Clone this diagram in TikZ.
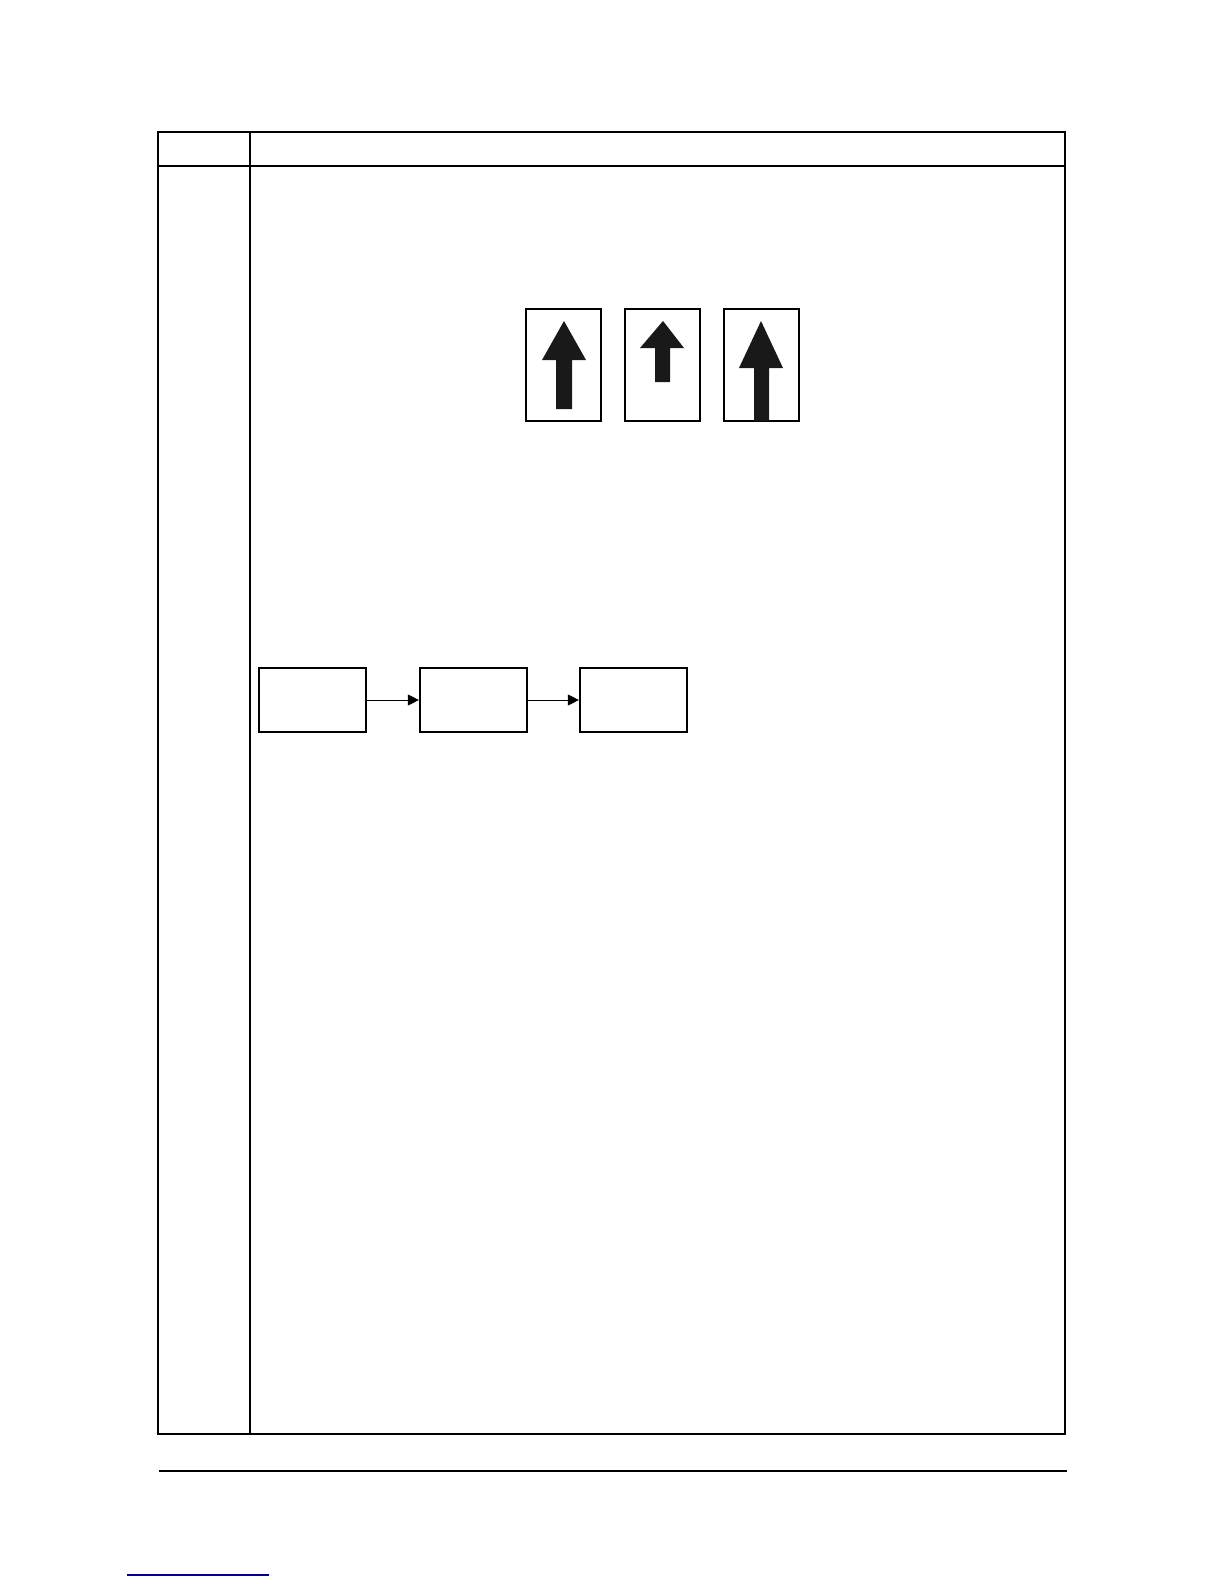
\documentclass[tikz,border=0pt]{standalone}
\usetikzlibrary{arrows.meta}
\begin{document}
\begin{tikzpicture}[x=0.5pt,y=-0.5pt,
  frame/.style={draw=black,line width=0.8pt},
  thickline/.style={draw=black,line width=1.3pt},
  pagebox/.style={draw=black,line width=0.6pt},
  arrowfill/.style={fill=black!90,draw=none},
  flowbox/.style={draw=black,line width=1.1pt,minimum width=53.5pt,minimum height=32pt,inner sep=0pt},
  flowarrow/.style={draw=black,line width=0.5pt,-{Triangle[length=5.5pt,width=5.5pt]}}
]
\useasboundingbox (0,0) rectangle (1224,1584);
% table frame
\draw[frame] (158,1434) -- (158,132) -- (1065,132) -- (1065,1434);
\draw[frame] (158,166) -- (1065,166);
\draw[frame] (250,132) -- (250,1434);
\draw[thickline] (157,1434) -- (1066,1434);
% footer line
\draw[black,line width=0.6pt] (159,1471) -- (1067,1471);
% blue link underline
\draw[blue!60!black,line width=0.6pt] (127,1575) -- (269,1575);
% page arrow figures
\draw[pagebox] (526,309) rectangle (601,421);
\fill[arrowfill] (564,321) -- (586,360) -- (572,360) -- (572,409) -- (556,409) -- (556,360) -- (542,360) -- cycle;
\draw[pagebox] (625,309) rectangle (700,421);
\fill[arrowfill] (663,321) -- (684,348) -- (670,348) -- (670,382) -- (655,382) -- (655,348) -- (640,348) -- cycle;
\draw[pagebox] (724,309) rectangle (799,421);
\fill[arrowfill] (761,321) -- (783,368) -- (769,368) -- (769,421) -- (754,421) -- (754,368) -- (739,368) -- cycle;
% flow boxes
\node[flowbox] (a) at (312.5,700) {};
\node[flowbox] (b) at (473.5,700) {};
\node[flowbox] (c) at (633.5,700) {};
\draw[flowarrow] (a) -- (b);
\draw[flowarrow] (b) -- (c);
\end{tikzpicture}
\end{document}
